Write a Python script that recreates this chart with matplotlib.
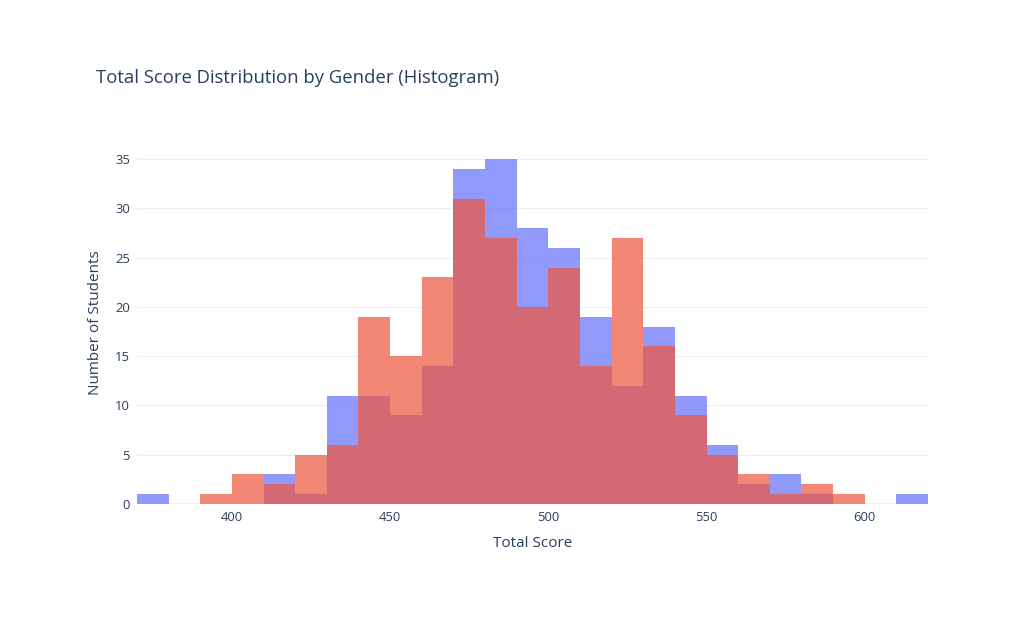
import numpy as np
import matplotlib.pyplot as plt

plt.rcParams['font.family'] = ['Open Sans', 'DejaVu Sans']

# bin left edges (width 10) and counts
bin_edges = list(range(370, 630, 10))
blue_counts = [1, 0, 0, 0, 3, 1, 11, 11, 9, 14, 34, 35, 28, 26, 19, 12, 18, 11, 6, 2, 3, 1, 0, 0, 1]
red_counts = [0, 0, 1, 3, 2, 5, 6, 19, 15, 23, 31, 27, 20, 24, 14, 27, 16, 9, 5, 3, 1, 2, 1, 0, 0]

text_color = '#2a3f5f'
grid_color = '#ebf0f8'

fig = plt.figure(figsize=(10.24, 6.24), dpi=100)
ax = fig.add_axes([137 / 1024, 1 - 504 / 624, (928 - 137) / 1024, (504 - 141) / 624])

lefts = np.array(bin_edges[:-1])
ax.bar(lefts, blue_counts, width=10, align='edge', color='#636efa', alpha=0.7, linewidth=0, zorder=2)
ax.bar(lefts, red_counts, width=10, align='edge', color='#EF553B', alpha=0.7, linewidth=0, zorder=3)

ax.set_xlim(370, 620)
ax.set_ylim(0, 35 * 1.0526)
ax.set_xticks([400, 450, 500, 550, 600])
ax.set_yticks([0, 5, 10, 15, 20, 25, 30, 35])
ax.grid(axis='y', color=grid_color, linewidth=1, zorder=0)
ax.axhline(0, color=grid_color, linewidth=2, zorder=1)
for s in ax.spines.values():
    s.set_visible(False)
ax.tick_params(length=0, labelsize=9.4, colors=text_color)
ax.tick_params(axis='x', pad=5)
ax.tick_params(axis='y', pad=5)

ax.set_xlabel('Total Score', fontsize=11, color=text_color, labelpad=9)
ax.set_ylabel('Number of Students', fontsize=11, color=text_color, labelpad=9)
fig.text(96 / 1024, 1 - 78 / 624, 'Total Score Distribution by Gender (Histogram)',
         fontsize=13.3, color=text_color, va='center', ha='left')

fig.savefig('out.png', dpi=100, facecolor='white')
